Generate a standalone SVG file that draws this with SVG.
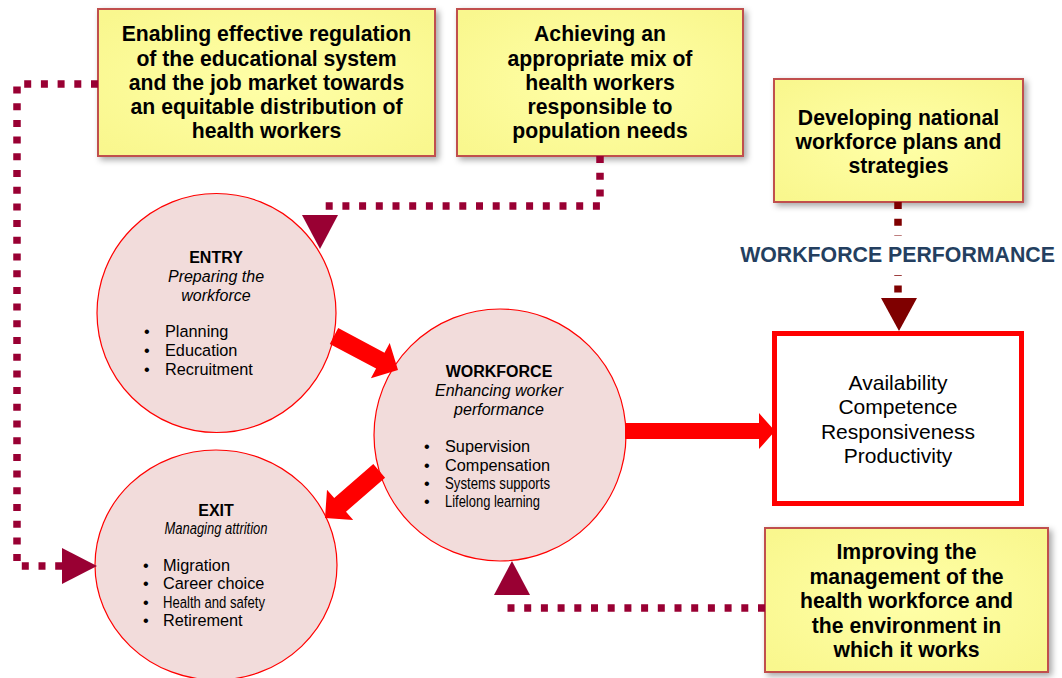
<svg xmlns="http://www.w3.org/2000/svg" width="1062" height="678" viewBox="0 0 1062 678">
<style>
  .ybox{fill:url(#yfill);stroke:#c0504d;stroke-width:2;filter:url(#shadow)}
  .ytxt{font-family:"Liberation Sans",Arial,sans-serif;font-weight:bold;font-size:21.2px;fill:#000;text-anchor:middle}
  .circ{fill:#f2dcdb;stroke:#ff0000;stroke-width:1.2}
  .hd{font-family:"Liberation Sans",Arial,sans-serif;font-weight:bold;font-size:16px;fill:#000;text-anchor:middle}
  .sub{font-family:"Liberation Sans",Arial,sans-serif;font-style:italic;font-size:16px;fill:#000;text-anchor:middle}
  .li{font-family:"Liberation Sans",Arial,sans-serif;font-size:16.3px;fill:#000}
  .dot{fill:none;stroke:#990033;stroke-width:7.5;stroke-dasharray:7 9.7}
  .dotd{fill:none;stroke:#7f0000;stroke-width:7.5;stroke-dasharray:7 9.7}
  .tri{fill:#990033}
  .trid{fill:#7f0000}
  .red{fill:#ff0000}
  .out{font-family:"Liberation Sans",Arial,sans-serif;font-size:21px;fill:#000;text-anchor:middle}
  .perf{font-family:"Liberation Sans",Arial,sans-serif;font-weight:bold;font-size:21.3px;fill:#243f60;text-anchor:middle}
</style>
<defs>
  <radialGradient id="yfill" cx="50%" cy="50%" r="65%">
    <stop offset="0" stop-color="#ffffa8"/>
    <stop offset="1" stop-color="#f9f78e"/>
  </radialGradient>
  <filter id="shadow" x="-10%" y="-10%" width="125%" height="130%">
    <feDropShadow dx="3" dy="3" stdDeviation="3" flood-color="#000" flood-opacity="0.35"/>
  </filter>
</defs>
<rect width="1062" height="678" fill="#fff"/>

<g id="node-regulation">
  <rect class="ybox" x="98" y="9" width="337" height="147"/>
  <text class="ytxt" x="266.5" y="41">Enabling effective regulation</text>
  <text class="ytxt" x="266.5" y="65.5">of the educational system</text>
  <text class="ytxt" x="266.5" y="90">and the job market towards</text>
  <text class="ytxt" x="266.5" y="114">an equitable distribution of</text>
  <text class="ytxt" x="266.5" y="138">health workers</text>
</g>

<g id="node-mix">
  <rect class="ybox" x="457" y="9" width="286" height="147"/>
  <text class="ytxt" x="600" y="41">Achieving an</text>
  <text class="ytxt" x="600" y="65.5">appropriate mix of</text>
  <text class="ytxt" x="600" y="90">health workers</text>
  <text class="ytxt" x="600" y="114">responsible to</text>
  <text class="ytxt" x="600" y="138">population needs</text>
</g>

<g id="node-plans">
  <rect class="ybox" x="774" y="79" width="249" height="123"/>
  <text class="ytxt" x="898.5" y="124.5">Developing national</text>
  <text class="ytxt" x="898.5" y="148.5">workforce plans and</text>
  <text class="ytxt" x="898.5" y="172.5">strategies</text>
</g>

<g id="node-management">
  <rect class="ybox" x="765" y="528" width="283" height="144"/>
  <text class="ytxt" x="906.5" y="559">Improving the</text>
  <text class="ytxt" x="906.5" y="584">management of the</text>
  <text class="ytxt" x="906.5" y="608">health workforce and</text>
  <text class="ytxt" x="906.5" y="633">the environment in</text>
  <text class="ytxt" x="906.5" y="657">which it works</text>
</g>

<g id="node-entry">
  <circle class="circ" cx="216.5" cy="313" r="119.5"/>
  <text class="hd" x="216" y="263">ENTRY</text>
  <text class="sub" x="216" y="282">Preparing the</text>
  <text class="sub" x="216" y="301">workforce</text>
  <text class="li" x="144" y="337">•</text><text class="li" x="165" y="337">Planning</text>
  <text class="li" x="144" y="356">•</text><text class="li" x="165" y="356">Education</text>
  <text class="li" x="144" y="375">•</text><text class="li" x="165" y="375">Recruitment</text>
</g>

<g id="node-workforce">
  <circle class="circ" cx="500" cy="435" r="126"/>
  <text class="hd" x="499" y="377">WORKFORCE</text>
  <text class="sub" x="499" y="396">Enhancing worker</text>
  <text class="sub" x="499" y="415">performance</text>
  <text class="li" x="424" y="452">•</text><text class="li" x="445" y="452">Supervision</text>
  <text class="li" x="424" y="471">•</text><text class="li" x="445" y="471">Compensation</text>
  <text class="li" x="424" y="489">•</text><text class="li" x="445" y="489" textLength="105" lengthAdjust="spacingAndGlyphs">Systems supports</text>
  <text class="li" x="424" y="507">•</text><text class="li" x="445" y="507" textLength="95" lengthAdjust="spacingAndGlyphs">Lifelong learning</text>
</g>

<g id="node-exit">
  <ellipse class="circ" cx="216" cy="565" rx="121" ry="115"/>
  <text class="hd" x="216" y="516">EXIT</text>
  <text class="sub" x="216" y="534" textLength="103" lengthAdjust="spacingAndGlyphs">Managing attrition</text>
  <text class="li" x="143" y="571">•</text><text class="li" x="163" y="571">Migration</text>
  <text class="li" x="143" y="589">•</text><text class="li" x="163" y="589">Career choice</text>
  <text class="li" x="143" y="608">•</text><text class="li" x="163" y="608" textLength="102" lengthAdjust="spacingAndGlyphs">Health and safety</text>
  <text class="li" x="143" y="626">•</text><text class="li" x="163" y="626">Retirement</text>
</g>

<g id="node-outcomes">
  <rect x="774.5" y="333.5" width="247" height="170" fill="#fff" stroke="#ff0000" stroke-width="5"/>
  <text class="out" x="898" y="390">Availability</text>
  <text class="out" x="898" y="414">Competence</text>
  <text class="out" x="898" y="439">Responsiveness</text>
  <text class="out" x="898" y="463">Productivity</text>
</g>

<g id="connectors">
  <path class="dot" d="M98,84 H17 V566 H62"/>
  <polygon class="tri" points="62,548 97,566 62,584"/>
  <path class="dot" d="M600,156 V206 H316"/>
  <polygon class="tri" points="302,215 338,215 320,249"/>
  <path class="dot" d="M765,608 H505"/>
  <polygon class="tri" points="494,595 530,595 512,561"/>
  <path class="dotd" d="M898,202 V294"/>
  <polygon class="trid" points="881,298 917,298 899,331"/>
  <polygon class="red" points="338.2,328.1 384.5,352.7 389.7,342.9 398,370 370.9,378.3 376.1,368.5 329.8,343.9"/>
  <polygon class="red" points="373.3,464.1 334.2,498.1 327,489.8 325,518 353.2,520 346,511.7 385.1,477.7"/>
  <polygon class="red" points="625,423 759,423 759,413 775,431 759,449 759,439 625,439"/>
</g>

<g id="label-performance">
  <rect x="735" y="236" width="327" height="39" fill="#fff"/>
  <text class="perf" x="897.5" y="261.5">WORKFORCE PERFORMANCE</text>
</g>
</svg>
